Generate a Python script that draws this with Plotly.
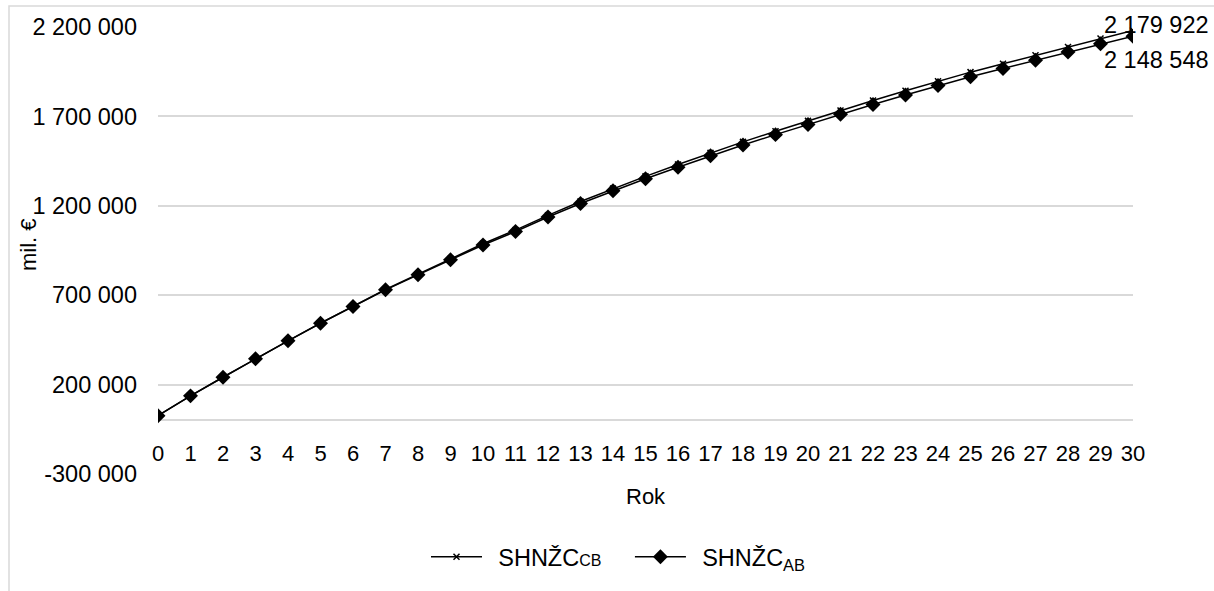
import plotly.graph_objects as go

years = list(range(31))
shnzc_ab = [26000, 137000, 241000, 345000, 445000, 543000, 637000, 730000, 814000, 898000,
            981000, 1056000, 1137000, 1213000, 1284000, 1351000, 1416000, 1480000, 1540000, 1598000,
            1655000, 1712000, 1767000, 1820000, 1873000, 1922000, 1968000, 2014000, 2060000, 2106000,
            2148548]
shnzc_cb = [26000, 137000, 241000, 345000, 445000, 543500, 638000, 732000, 817500, 903000,
            987500, 1064000, 1146500, 1224000, 1296000, 1364500, 1431000, 1496000, 1557500, 1616500,
            1675000, 1733000, 1789000, 1843000, 1897000, 1947500, 1994500, 2041500, 2088500, 2136000,
            2179922]
y_tickvals = [-300000, 200000, 700000, 1200000, 1700000, 2200000]
y_ticktext = ["-300 000", "200 000", "700 000", "1 200 000", "1 700 000", "2 200 000"]
x_ticktext = [str(v) for v in years]
label_cb = "2 179 922"
label_ab = "2 148 548"

FONT = "Liberation Sans, Arial, sans-serif"
FS = 23.5
FSX = 22
GRID = "#d9d9d9"

fig = go.Figure()
fig.add_trace(go.Scatter(
    x=years, y=shnzc_cb, mode="lines+markers",
    name='\u00a0\u2009SHNŽC<span style="font-size:16px">CB</span>\u2002\u2002',
    line=dict(color="black", width=1.5),
    marker=dict(symbol="x-thin", size=6, color="black", line=dict(color="black", width=1.5)),
))
fig.add_trace(go.Scatter(
    x=years, y=shnzc_ab, mode="lines+markers",
    name="\u00a0\u2009SHNŽC<sub>AB</sub>",
    line=dict(color="black", width=1.5),
    marker=dict(symbol="diamond", size=11.5, color="black"),
))

fig.add_annotation(x=years[-1], y=shnzc_cb[-1], text=label_cb, showarrow=False,
                   xanchor="center", yanchor="middle", xshift=23, yshift=6,
                   font=dict(family=FONT, size=FS, color="black"))
fig.add_annotation(x=years[-1], y=shnzc_ab[-1], text=label_ab, showarrow=False,
                   xanchor="center", yanchor="middle", xshift=23, yshift=-24,
                   font=dict(family=FONT, size=FS, color="black"))

H_PLOT = 591 - 27 - 117
W_PLOT = 1214 - 158 - 81
# axis titles
fig.add_annotation(xref="paper", yref="paper", x=0.5, y=(474 - 497) / H_PLOT, text="Rok",
                   showarrow=False, xanchor="center", yanchor="middle",
                   font=dict(family=FONT, size=FSX, color="black"))
fig.add_annotation(xref="paper", yref="paper", x=(28 - 158) / W_PLOT, y=(474 - 245) / H_PLOT,
                   text="mil. €", textangle=-90, showarrow=False, xanchor="center", yanchor="middle",
                   font=dict(family=FONT, size=FSX, color="black"))

# chart frame
fig.add_shape(type="rect", xref="paper", yref="paper",
              x0=(9 - 158) / W_PLOT, x1=(1225 - 158) / W_PLOT,
              y0=(474 - 600) / H_PLOT, y1=(474 - 6) / H_PLOT,
              line=dict(color=GRID, width=1.5), layer="below")

fig.update_layout(
    width=1214, height=591,
    margin=dict(l=158, r=81, t=27, b=117, autoexpand=False),
    paper_bgcolor="white", plot_bgcolor="white",
    font=dict(family=FONT, size=FS, color="black"),
    showlegend=True,
    legend=dict(orientation="h", x=(426 - 158) / W_PLOT, xanchor="left",
                y=(474 - 557) / H_PLOT, yanchor="middle",
                font=dict(family=FONT, size=FS, color="black"), itemwidth=51,
                bgcolor="rgba(0,0,0,0)"),
    xaxis=dict(range=[0, 30], tickmode="array", tickvals=years, ticktext=x_ticktext,
               showgrid=False, zeroline=False, showline=False, ticks="",
               anchor="free", position=300000 / 2500000, ticklabelstandoff=18,
               tickfont=dict(family=FONT, size=FSX, color="black")),
    yaxis=dict(range=[-300000, 2200000], tickmode="array", tickvals=y_tickvals, ticktext=y_ticktext,
               showgrid=True, gridcolor=GRID, gridwidth=1.5,
               zeroline=True, zerolinecolor=GRID, zerolinewidth=1.5,
               showline=False, ticks="", ticklabelstandoff=20,
               tickfont=dict(family=FONT, size=FS, color="black")),
)

fig.write_html("out.html")
